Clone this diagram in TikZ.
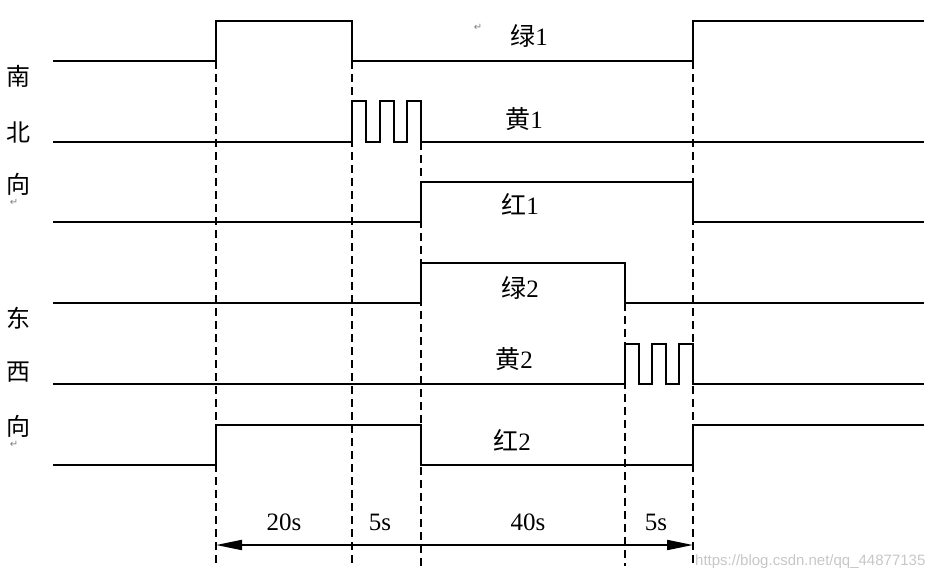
\documentclass[tikz,border=0pt]{standalone}
\usepackage{fontspec}
\setmainfont{Liberation Serif}
\newfontfamily\cjk{Noto Sans CJK SC}
\newfontfamily\wmfont{Liberation Sans}
\newfontfamily\symfont{DejaVu Sans}
\usetikzlibrary{arrows.meta,calc}
\tikzset{
  >={Triangle[length=26pt,width=10pt]},
  wave/.style={line width=2pt,black,line join=miter},
  tickline/.style={line width=1.8pt,dash pattern=on 8pt off 5pt},
  span/.style={<->,line width=2pt},
  siglbl/.style={font=\fontsize{25}{30}\selectfont,inner sep=0pt},
  dirlbl/.style={font=\cjk\fontsize{24}{28}\selectfont,inner sep=0pt},
  durlbl/.style={font=\fontsize{25}{30}\selectfont,inner sep=0pt},
  parmark/.style={font=\symfont\fontsize{10}{11}\selectfont,gray,inner sep=0pt},
  wmark/.style={font=\wmfont\fontsize{15}{17}\selectfont,black!22,inner sep=0pt},
}

\begin{document}
\begin{tikzpicture}[x=1pt,y=-1pt]
  \useasboundingbox (0,0) rectangle (946,581);
  % phase boundaries
  \draw[tickline] (216,61) -- (216,566);
  \draw[tickline] (352,61) -- (352,566);
  \draw[tickline] (421,142) -- (421,566);
  \draw[tickline] (625,303) -- (625,566);
  \draw[tickline] (693,61) -- (693,566);
  % north-south
  \draw[wave] (53,61) -- (216,61) -- (216,21) -- (352,21) -- (352,61)
    -- (693,61) -- (693,21) -- (924,21);
  \draw[wave] (53,142) \foreach \x in {352,379.5,407}{ -- (\x,142) -- (\x,101)
    -- (\x+14,101) -- (\x+14,142)} -- (924,142);
  \draw[wave] (53,222) -- (421,222) -- (421,182) -- (693,182) -- (693,222)
    -- (924,222);
  % east-west
  \draw[wave] (53,303) -- (421,303) -- (421,263) -- (625,263) -- (625,303)
    -- (924,303);
  \draw[wave] (53,384) \foreach \x in {625,652,679}{ -- (\x,384) -- (\x,344)
    -- (\x+14,344) -- (\x+14,384)} -- (924,384);
  \draw[wave] (53,465) -- (216,465) -- (216,425) -- (421,425) -- (421,465)
    -- (693,465) -- (693,425) -- (924,425);
  % signal names
  \node[siglbl] (g1) at (529,36) {{\cjk 绿}1};
  \node[siglbl] (y1) at (524,119) {{\cjk 黄}1};
  \node[siglbl] (r1) at (520,204) {{\cjk 红}1};
  \node[siglbl] (g2) at (520,288) {{\cjk 绿}2};
  \node[siglbl] (y2) at (514,359) {{\cjk 黄}2};
  \node[siglbl] (r2) at (512,440) {{\cjk 红}2};
  \node[parmark] (pm1) at (478,27) {↵};
  % directions
  \node[dirlbl] (ns1) at (18,76) {南};
  \node[dirlbl] (ns2) at (18,132) {北};
  \node[dirlbl] (ns3) at (18,184) {向};
  \node[parmark] (pm2) at (14,202) {↵};
  \node[dirlbl] (ew1) at (18,318) {东};
  \node[dirlbl] (ew2) at (18,372) {西};
  \node[dirlbl] (ew3) at (18,426) {向};
  \node[parmark] (pm3) at (14,444) {↵};
  % durations
  \coordinate (spanL) at (216,545);
  \coordinate (spanR) at (693,545);
  \draw[span] (spanL) -- (spanR);
  \node[durlbl] (d1) at (284,522) {20s};
  \node[durlbl] (d2) at (380,522) {5s};
  \node[durlbl] (d3) at (528,522) {40s};
  \node[durlbl] (d4) at (656,522) {5s};
  \node[wmark,anchor=west] (wm) at (695,562) {https://blog.csdn.net/qq\_44877135};
\end{tikzpicture}
\end{document}
